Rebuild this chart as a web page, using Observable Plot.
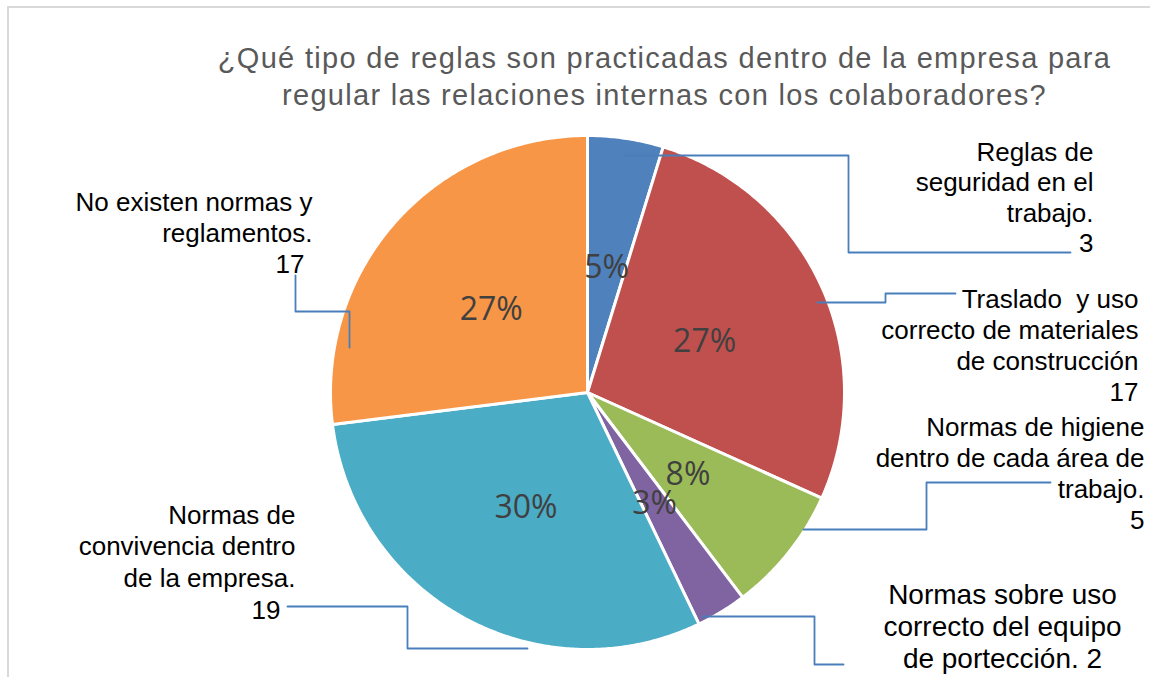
<!DOCTYPE html>
<html><head><meta charset="utf-8">
<script src="https://cdn.jsdelivr.net/npm/d3@7"></script>
<script src="https://cdn.jsdelivr.net/npm/@observablehq/plot@0.6"></script>
<style>
html,body{margin:0;padding:0;background:#fff;}
#wrap{position:relative;width:1150px;height:677px;overflow:hidden;}
#frame{position:absolute;left:7px;top:6px;width:1160px;height:700px;border-left:2px solid #d9d9d9;border-top:2px solid #d9d9d9;}
#title{position:absolute;left:217px;width:895px;top:40px;text-align:center;font-family:"Liberation Sans",Arial,sans-serif;font-size:29px;letter-spacing:1.3px;line-height:37px;color:#595959;white-space:nowrap;}
#chart{position:absolute;left:0;top:0;}
g[aria-label="callout"]{letter-spacing:1.65px;}
g[aria-label="callout-big"]{letter-spacing:2.5px;}
</style></head><body>
<div id="wrap"><div id="frame"></div><div id="chart"></div>
<div id="title">¿Qué tipo de reglas son practicadas dentro de la empresa para<br>regular las relaciones internas con los colaboradores?</div></div>
<script>
// ---- data ----
const categories = [
  "Reglas de seguridad en el trabajo.",
  "Traslado y uso correcto de materiales de construcción",
  "Normas de higiene dentro de cada área de trabajo.",
  "Normas sobre uso correcto del equipo de portección.",
  "Normas de convivencia dentro de la empresa.",
  "No existen normas y reglamentos."
];
const counts = [3, 17, 5, 2, 19, 17];
const labelTexts = [
  "Reglas de\nseguridad en el\ntrabajo.\n3",
  "Traslado\u00a0 y uso\ncorrecto de materiales\nde construcción\n17",
  "Normas de higiene\ndentro de cada área de\ntrabajo.\n5",
  "Normas sobre uso\ncorrecto del equipo\nde portección. 2",
  "Normas de\nconvivencia dentro\nde la empresa.\n19",
  "No existen normas y\nreglamentos.\n17"
];
const colors = ["#4F81BD", "#C0504D", "#9BBB59", "#8064A2", "#4BACC6", "#F79646"];

// ---- layout (pixel space) ----
const W = 1150, H = 677;
const cx = 587, cy = 392, R = 257;
const labelLayout = [
  {x: 1093, y: 160, anchor: "end", lh: 30.5, fs: 26, big: false, lastDx: 0},
  {x: 1138, y: 307, anchor: "end", lh: 31, fs: 26, big: false, lastDx: 0},
  {x: 1144, y: 435, anchor: "end", lh: 31, fs: 26, big: false, lastDx: 0},
  {x: 1002, y: 603, anchor: "middle", lh: 32, fs: 28, big: true, lastDx: 0},
  {x: 295, y: 523, anchor: "end", lh: 31.7, fs: 26, big: false, lastDx: -15},
  {x: 312, y: 210, anchor: "end", lh: 31, fs: 26, big: false, lastDx: -8}
];
const leaderLayout = [
  [[625,155],[848,155],[848,252],[1070,252]],
  [[817,302],[885,302],[885,293],[955,293]],
  [[803,529],[926,529],[926,482],[1050,482]],
  [[702,616],[814,616],[814,664],[843,664]],
  [[527,648],[407,648],[407,606],[287,606]],
  [[349,347],[349,311],[295,311],[295,275]]
];

// ---- derived geometry ----
const total = d3.sum(counts);
const arcs = d3.pie().sort(null).value(d => d)(counts);
const slicePts = [];
arcs.forEach((a, i) => {
  const key = categories[i];
  slicePts.push({key, x: cx, y: cy});
  const n = Math.max(2, Math.ceil((a.endAngle - a.startAngle) / (Math.PI / 360)));
  for (let k = 0; k <= n; k++) {
    const t = a.startAngle + (a.endAngle - a.startAngle) * k / n;
    slicePts.push({key, x: cx + R * Math.sin(t), y: cy - R * Math.cos(t)});
  }
  slicePts.push({key, x: cx, y: cy});
});
const pctLabels = arcs.map((a, i) => {
  const m = (a.startAngle + a.endAngle) / 2;
  return {x: cx + 0.5 * R * Math.sin(m), y: cy - 0.5 * R * Math.cos(m) + 2,
          text: Math.round(counts[i] / total * 100) + "%"};
});
const lineRows = [];
labelTexts.forEach((t, i) => {
  const L = labelLayout[i];
  const parts = t.split("\n");
  parts.forEach((s, j) => {
    const dx = (j === parts.length - 1) ? L.lastDx : 0;
    lineRows.push({text: s, x: L.x + dx, y: L.y + j * L.lh - 0.32 * L.fs, anchor: L.anchor, fs: L.fs, big: L.big});
  });
});
const leaderPts = [];
leaderLayout.forEach((pts, i) => pts.forEach(p => leaderPts.push({key: categories[i], x: p[0], y: p[1]})));

const small = lineRows.filter(d => !d.big);
const bigRows = lineRows.filter(d => d.big);

const chart = Plot.plot({
  width: W, height: H,
  margin: 0,
  x: {domain: [0, W], range: [0, W], axis: null},
  y: {domain: [0, H], range: [0, H], axis: null},
  color: {domain: categories, range: colors},
  style: {background: "transparent", fontFamily: "'Liberation Sans', Arial, sans-serif"},
  marks: [
    Plot.line(slicePts, {x: "x", y: "y", z: "key", fill: "key", stroke: "white", strokeWidth: 3, strokeLinejoin: "round", curve: "linear"}),
    Plot.text(pctLabels, {x: "x", y: "y", text: "text", fontSize: 32, fill: "#404040", fontFamily: "'Open Sans', sans-serif"}),
    Plot.line(leaderPts, {x: "x", y: "y", z: "key", stroke: "#4A7EBB", strokeWidth: 1.8, curve: "linear"}),
    Plot.text(small, {x: "x", y: "y", text: "text", textAnchor: "end", fontSize: 26, fill: "#000", ariaLabel: "callout"}),
    Plot.text(bigRows, {x: "x", y: "y", text: "text", textAnchor: "middle", fontSize: 28, fill: "#000", ariaLabel: "callout-big"})
  ]
});
document.getElementById("chart").appendChild(chart);
</script>
</body></html>
